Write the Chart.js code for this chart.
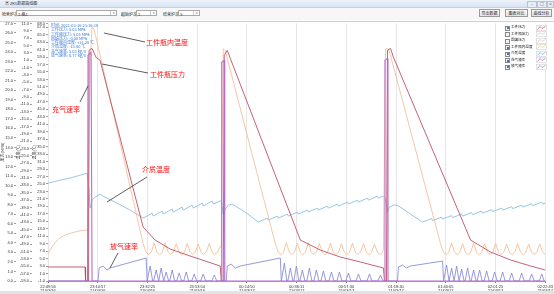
<!DOCTYPE html>
<html><head><meta charset="utf-8">
<script src="https://cdn.jsdelivr.net/npm/chart.js@4/dist/chart.umd.min.js"></script>
<style>
html,body{margin:0;padding:0}
body{width:554px;height:294px;overflow:hidden;background:#fff;position:relative;font-family:"Noto Sans CJK SC","Noto Sans",sans-serif}
.abs{position:absolute;white-space:nowrap}
#tbar{left:0;top:0;width:554px;height:7px;background:linear-gradient(#eef3fb,#d9e4f3);border-bottom:1px solid #c8d3e2}
#tbar .t{left:5px;top:0;font-size:4px;line-height:7px;color:#333}
#tbar .w{top:1px;width:8px;height:5px;border:1px solid #b8c4d4;background:#e6edf7;font-size:4px;line-height:5px;text-align:center;color:#555}
#tool{left:0;top:8px;width:554px;height:12px;background:#f7f7f7}
.lab{font-size:4px;line-height:6px;color:#222;top:11px}
.combo{top:10px;height:6px;border:1px solid #a9a9a9;background:#fff;font-size:4px;line-height:6px;color:#222;padding-left:1px;box-sizing:border-box}
.combo i{position:absolute;right:0;top:0;width:5px;height:4px;border-left:1px solid #ccc;font-style:normal;font-size:3px;line-height:4px;text-align:center;color:#444}
.btn{top:9px;height:8px;border:1px solid #9a9a9a;background:linear-gradient(#fbfbfb,#e4e4e4);font-size:4px;line-height:6px;text-align:center;color:#222;box-sizing:border-box}
#panel{left:0;top:21px;width:554px;height:1px;background:#cfcfcf}
#cv{position:absolute;left:0;top:20px}
#info{left:51px;top:23px;font-size:4px;line-height:4.3px;color:#3a78d8}
.ann{font-size:7px;line-height:7px;color:#ff1010}
#legend .cb{position:absolute;width:3px;height:3px;border:1px solid #888;background:#f4f4f4}
#legend .cb.on::after{content:"";position:absolute;left:0.5px;top:0.5px;width:2px;height:2px;background:#4a6fb0}
#legend .lt{position:absolute;font-size:3.6px;line-height:4px;color:#222}
#bot{left:0;top:291px;width:554px;height:3px;background:#e3e3e3}
</style></head>
<body>
<div id="tbar" class="abs">
  <div class="abs t">▣ ZKS数据曲线图</div>
  <div class="abs w" style="left:527px">–</div>
  <div class="abs w" style="left:537px">□</div>
  <div class="abs w" style="left:547px;width:5px">×</div>
</div>
<div id="tool" class="abs"></div>
<div class="abs lab" style="left:2px">检索炉次:</div>
<div class="abs combo" style="left:16px;width:101px">1-瓶1<i>▾</i></div>
<div class="abs lab" style="left:121px">起始炉次:</div>
<div class="abs combo" style="left:136px;width:21px">1<i>▾</i></div>
<div class="abs lab" style="left:163px">结束炉次:</div>
<div class="abs combo" style="left:178px;width:22px">5<i>▾</i></div>
<div class="abs btn" style="left:479px;width:21px">导出数据</div>
<div class="abs btn" style="left:505px;width:23px">图表对比</div>
<div class="abs btn" style="left:531px;width:21px">曲线分析</div>
<div id="panel" class="abs"></div>
<canvas id="cv" width="554" height="274"></canvas>
<div id="info" class="abs">时间: 2021-03-16 23:16:38<br>工件压力: 5.03 MPa<br>工件瓶压力: 5.05 MPa<br>回填压力: -0.00 MPa<br>工件瓶内温度: +31.20 ℃<br>介质温度: -15.80 ℃<br>充气速率: 5.03 kg/s<br>放气速率: 0.77 kg/s</div>
<svg class="abs" style="left:0;top:0" width="554" height="294">
  <g stroke="#333" stroke-width="0.8">
    <line x1="104" y1="33" x2="145" y2="42"/>
    <line x1="102" y1="64" x2="148" y2="73"/>
    <line x1="80" y1="102" x2="88" y2="86"/>
    <line x1="147" y1="177" x2="107" y2="202"/>
    <line x1="118" y1="253" x2="110" y2="268"/>
  </g>
</svg>
<div class="abs ann" style="left:146px;top:39px">工件瓶内温度</div>
<div class="abs ann" style="left:150px;top:71px">工件瓶压力</div>
<div class="abs ann" style="left:52px;top:106px">充气速率</div>
<div class="abs ann" style="left:142px;top:166px">介质温度</div>
<div class="abs ann" style="left:110px;top:243px">放气速率</div>
<div id="legend" class="abs" style="left:0;top:0"></div>
<div id="bot" class="abs"></div>
<script>
// ---- x axis (minutes from first tick) ----
const xTicks = [0, 21.35, 42.7, 64.05, 85.4, 106.75, 128.1, 149.45, 170.8, 192.15, 213.5];
const timeLabels = ["22:49:56","23:10:57","23:32:25","23:53:54","00:14:50","00:36:11","00:57:30","01:18:40","01:40:05","02:01:25","02:22:43"];
const dateLabels = ["21/03/16","21/03/16","21/03/16","21/03/16","21/03/17","21/03/17","21/03/17","21/03/17","21/03/17","21/03/17","21/03/17"];
// ---- y axis tick labels ----
const ticksAxis1 = [-1,1,3,5,7,9,11,13,15,17,19,21,23,25,27,29,31,33,35,37,39,41,43,45,47,49,51,53,55,57,59,61,63,65,67,68];
const ticksAxis2 = [11,9,7,5,3,1,-1,-3,-5,-7,-9,-11,-13,-15,-17,-19,-21,-23,-25,-27,-29,-31,-33,-35,-37,-39,-41,-43,-45,-47,-49,-51,-53,-55,-57,-59];
const ticksAxis3 = [0,1,2,3,4,5,6,7,8,9,10,11,12,13,14,15,16,17,18,19,20,21,22,23,24,25,26,27];
// ---- legend ----
const legendNames = ["工件压力","工件瓶压力","回填压力","工件瓶内温度","介质温度","充气速率","放气速率"];
const legendChecked = [true,false,false,true,true,true,true];
const legendColors = ["#d2455a","#b9d6b0","#c9c9c9","#e8c95a","#6fa8d8","#b05cc8","#7f84d4"];

// ---- series: [minutes, value] ----
// 工件瓶压力 (MPa, axis 3)
const bottlePressure = [[0,1.47],[15.91,1.47],[16.13,0],[17.42,0],[17.63,24.17],[18.92,24.38],[20.64,23.44],[22.36,23.13],[40.85,5.65],[46.01,4.29],[52.46,3.35],[61.06,2.62],[67.51,2.09],[73.96,1.57],[74.39,0],[75.25,0],[75.68,23.65],[76.97,24.17],[78.26,23.34],[108.36,4.29],[116.96,3.24],[125.56,2.51],[134.16,1.99],[144.05,1.36],[144.48,0],[145.34,0],[145.77,24.17],[147.06,24.38],[148.35,23.44],[181.46,4.29],[190.06,3.03],[198.66,2.20],[207.26,1.57],[213.5,1.15]];
// 工件瓶内温度 (℃, axis 1)
const bottleTemp = [[0,6.38],[1.72,8.22],[3.44,9.54],[5.16,10.60],[7.74,11.39],[10.32,11.91],[13.76,12.44],[17.20,12.71],[18.06,57.25],[18.92,67.0],[19.78,66.47],[40.85,9.02],
[42.14,6.64],[43.22,6.12],[44.29,6.70],[45.58,9.10],[46.87,6.60],[47.95,6.05],[49.02,6.64],[50.31,9.25],[51.60,6.70],[52.68,6.12],[53.75,6.64],[55.04,8.95],[56.33,6.64],[57.41,6.00],[58.48,6.60],[59.77,9.02],[61.06,6.70],[62.14,6.12],[63.21,6.64],[64.50,8.90],[65.79,6.64],[66.87,6.10],[67.94,6.70],[69.23,9.05],[70.52,6.64],[71.60,6.12],[72.67,6.64],[73.96,8.22],
[74.39,7.96],[75.25,61.20],[76.11,60.68],[97.61,9.02],
[98.90,6.64],[99.98,6.00],[101.05,6.64],[102.34,9.30],[103.63,6.70],[104.71,6.12],[105.78,6.64],[107.07,9.10],[108.36,6.60],[109.44,6.05],[110.51,6.64],[111.80,9.25],[113.09,6.64],[114.17,6.12],[115.24,6.70],[116.53,9.02],[117.82,6.64],[118.90,6.00],[119.97,6.64],[121.26,9.15],[122.55,6.70],[123.63,6.12],[124.70,6.64],[125.99,8.95],[127.28,6.64],[128.36,6.10],[129.43,6.64],[130.72,9.10],[132.01,6.60],[133.09,6.12],[134.16,6.64],[135.45,9.02],[136.74,6.64],[137.82,6.05],[138.89,6.70],[140.18,8.90],[141.47,6.64],[142.55,6.12],[143.62,6.64],[144.05,7.70],
[144.91,61.20],[145.77,61.20],[146.63,60.41],[168.56,9.02],
[169.85,6.64],[170.93,6.12],[172.00,6.64],[173.29,9.20],[174.58,6.70],[175.66,6.05],[176.73,6.64],[178.02,9.02],[179.31,6.64],[180.39,6.12],[181.46,6.60],[182.75,9.10],[184.04,6.64],[185.12,6.00],[186.19,6.64],[187.48,8.95],[188.77,6.70],[189.85,6.12],[190.92,6.64],[192.21,9.05],[193.50,6.64],[194.58,6.10],[195.65,6.64],[196.94,8.90],[198.23,6.60],[199.31,6.12],[200.38,6.64],[201.67,9.02],[202.96,6.64],[204.04,6.05],[205.11,6.70],[206.40,8.85],[207.69,6.64],[208.77,6.12],[209.84,6.64],[211.13,8.90],[212.42,6.64],[213.5,6.12]];
// 介质温度 (℃, axis 2)
const mediumTemp = [[0,-32.41],[5.16,-31.60],[9.46,-31.05],[13.76,-30.24],[16.77,-29.70],[17.63,-34.31],[18.06,-39.19],[18.92,-37.02],[20.21,-36.21],[22.36,-35.40],[23.65,-35.94],[28.81,-37.57],[35.26,-39.74],[40.85,-41.91],
[44.72,-40.55],[45.15,-41.36],[49.02,-40.01],[49.45,-40.82],[53.32,-39.46],[53.75,-40.28],[57.62,-38.92],[58.05,-39.74],[61.92,-38.38],[62.35,-39.19],[66.22,-37.84],[66.65,-38.65],[70.52,-37.29],[70.95,-38.11],[73.96,-37.29],
[74.39,-37.02],[75.25,-40.82],[76.11,-39.46],[77.40,-38.38],[79.12,-38.11],[84.71,-40.28],[90.30,-42.99],
[94.17,-41.91],[94.60,-42.45],[98.47,-41.36],[98.90,-41.91],[102.77,-40.82],[103.20,-41.36],[107.07,-40.28],[107.50,-40.82],[111.37,-39.74],[111.80,-40.28],[115.67,-39.19],[116.10,-39.74],[119.97,-38.65],[120.40,-39.19],[124.27,-38.11],[124.70,-38.65],[128.57,-37.57],[129.00,-38.11],[132.87,-37.02],[133.30,-37.57],[137.17,-36.48],[137.60,-37.02],[141.47,-35.94],[141.90,-36.48],[144.05,-35.94],
[144.91,-36.48],[145.77,-40.28],[146.63,-38.92],[148.35,-38.38],[150.07,-38.38],[155.66,-40.82],[160.82,-42.99],
[164.69,-42.04],[165.12,-42.59],[168.99,-41.64],[169.42,-42.18],[173.29,-41.23],[173.72,-41.77],[177.59,-40.82],[178.02,-41.36],[181.89,-40.41],[182.32,-40.96],[186.19,-40.01],[186.62,-40.55],[190.49,-39.60],[190.92,-40.14],[194.79,-39.19],[195.22,-39.74],[199.09,-38.79],[199.52,-39.33],[203.39,-38.38],[203.82,-38.92],[207.69,-37.97],[208.12,-38.52],[211.99,-37.57],[212.42,-38.11],[213.5,-37.84]];
// 充气速率 (axis 3)
const chargeRate = [[0,0],[16.99,0],[17.20,23.65],[18.49,23.96],[18.92,0],[74.39,0],[74.61,22.92],[75.68,23.13],[75.90,0],[144.48,0],[144.70,23.13],[145.77,23.34],[145.99,0],[213.5,0]];
// 放气速率 (axis 3)
const dischargeRate = [[0,0],[21.5,0],[21.93,1.36],[23.65,1.57],[25.37,1.15],[26.66,1.36],[42.14,2.41],[42.57,0],
[43.86,1.57],[44.94,0],[45.36,0],[46.44,1.15],[47.52,0],[48.59,1.36],[49.67,0],[50.74,0.94],[51.82,0],[52.24,0],[53.32,1.15],[54.40,0],[55.25,0],[56.33,0.84],[57.41,0],[58.26,0],[59.34,0.94],[60.42,0],[61.70,0],[62.78,0.73],[63.86,0],[65.57,0],[66.65,0.73],[67.73,0],[70.30,0],[71.38,0.63],[72.46,0],
[76.54,0],[76.97,1.57],[78.69,1.78],[80.41,1.36],[82.56,1.57],[99.76,2.41],[100.19,0],
[101.48,1.88],[102.56,0],[102.98,0],[104.06,1.36],[105.14,0],[105.56,0],[106.64,1.57],[107.72,0],[108.14,0],[109.22,1.15],[110.30,0],[111.15,0],[112.23,1.36],[113.31,0],[114.16,0],[115.24,1.15],[116.32,0],[117.17,0],[118.25,1.05],[119.33,0],[120.61,0],[121.69,0.94],[122.77,0],[124.05,0],[125.13,0.94],[126.21,0],[127.92,0],[129.00,0.84],[130.08,0],[132.22,0],[133.30,0.73],[134.38,0],[136.95,0],[138.03,0.73],[139.11,0],[141.68,0],[142.76,0.63],[143.84,0],
[150.07,0],[150.50,1.47],[152.22,1.67],[153.94,1.36],[155.66,1.57],[169.42,2.09],[169.85,0],
[171.14,1.67],[172.22,0],[173.29,1.36],[174.37,0],[175.44,1.57],[176.52,0],[177.59,1.26],[178.67,0],[179.09,0],[180.17,1.36],[181.25,0],[181.67,0],[182.75,1.15],[183.83,0],[184.25,0],[185.33,1.15],[186.41,0],[187.26,0],[188.34,1.05],[189.42,0],[190.70,0],[191.78,0.94],[192.86,0],[194.14,0],[195.22,0.94],[196.30,0],[198.01,0],[199.09,0.84],[200.17,0],[202.31,0],[203.39,0.84],[204.47,0],[206.61,0],[207.69,0.73],[208.77,0],[210.91,0],[211.99,0.73],[213.07,0],[213.5,0]];

// legend (HTML, real text)
const lg = document.getElementById('legend');
const legendTops = [25,31.5,38,44.5,51,57.5,64];
legendNames.forEach((n,i)=>{
  const t = legendTops[i];
  const cb = document.createElement('div'); cb.className = 'cb' + (legendChecked[i] ? ' on' : '');
  cb.style.left = '505px'; cb.style.top = (t+0.5)+'px'; lg.appendChild(cb);
  const lt = document.createElement('div'); lt.className = 'lt'; lt.textContent = n;
  lt.style.left = '511px'; lt.style.top = t+'px'; lg.appendChild(lt);
  const ns = 'http://www.w3.org/2000/svg';
  const sv = document.createElementNS(ns,'svg'); sv.setAttribute('width','11'); sv.setAttribute('height','6');
  sv.style.position='absolute'; sv.style.left='536px'; sv.style.top=(t-0.5)+'px';
  const r = document.createElementNS(ns,'rect'); r.setAttribute('x','0.5'); r.setAttribute('y','0.5'); r.setAttribute('width','10'); r.setAttribute('height','5'); r.setAttribute('fill','#fff'); r.setAttribute('stroke','#cfcfcf'); r.setAttribute('stroke-width','0.6');
  const p = document.createElementNS(ns,'polyline'); p.setAttribute('points','1.5,4.5 4,1.5 6,3.5 9.5,1.5'); p.setAttribute('fill','none'); p.setAttribute('stroke',legendColors[i]); p.setAttribute('stroke-width','0.7');
  sv.appendChild(r); sv.appendChild(p); lg.appendChild(sv);
});

const tickFont = {family:"'Liberation Sans','DejaVu Sans',sans-serif", size:4};
const titleFont = {family:"'Noto Sans CJK SC',sans-serif", size:4};
function yAxis(min,max,ticks,title,grid){
  return {
    type:'linear', position:'left', min:min, max:max,
    afterBuildTicks:s=>{ s.ticks = ticks.map(v=>({value:v})); },
    afterFit:s=>{ s.width = 16; },
    ticks:{font:tickFont, color:'#333', padding:1, autoSkip:false, callback:v=>Number(v).toFixed(1)},
    grid:{drawOnChartArea:grid, color:'#f0f0f0', tickLength:2, tickColor:'#777', tickWidth:0.7},
    border:{display:grid, color:'#9a9a9a'},
    title:{display:true, text:title, font:titleFont, color:'#333', padding:0}
  };
}
new Chart(document.getElementById('cv'), {
  type:'line',
  data:{datasets:[
    {label:'充气速率', data:chargeRate, yAxisID:'y3', borderColor:'#b66ccc', borderWidth:1.1},
    {label:'工件瓶压力', data:bottlePressure, yAxisID:'y3', borderColor:'#b8475e', borderWidth:0.85},
    {label:'工件瓶内温度', data:bottleTemp, yAxisID:'y1', borderColor:'#f4bd94', borderWidth:0.85},
    {label:'放气速率', data:dischargeRate, yAxisID:'y3', borderColor:'#8488d6', borderWidth:0.85},
    {label:'介质温度', data:mediumTemp, yAxisID:'y2', borderColor:'#8fbfdf', borderWidth:0.9}
  ]},
  options:{
    responsive:false, animation:false, devicePixelRatio:1, parsing:true,
    layout:{padding:{top:3,right:8,left:0,bottom:0}},
    elements:{point:{radius:0}, line:{tension:0}},
    plugins:{legend:{display:false}, tooltip:{enabled:false}},
    scales:{
      x:{type:'linear', min:0, max:213.5,
         afterBuildTicks:s=>{ s.ticks = xTicks.map(v=>({value:v})); },
         afterFit:s=>{ s.height = 13; },
         ticks:{font:tickFont, color:'#333', padding:1, autoSkip:false, maxRotation:0, callback:(v,i)=>[timeLabels[i],dateLabels[i]]},
         grid:{color:'#e6e6e6', tickLength:2, tickColor:'#777'},
         border:{color:'#9a9a9a'}},
      y1:yAxis(-1,68,ticksAxis1,'温度(℃)',false),
      y2:yAxis(-59,11,ticksAxis2,'温度(℃)',false),
      y3:yAxis(0,27,ticksAxis3,'压力(MPa)',false)
    }
  }
});
</script>
</body></html>
